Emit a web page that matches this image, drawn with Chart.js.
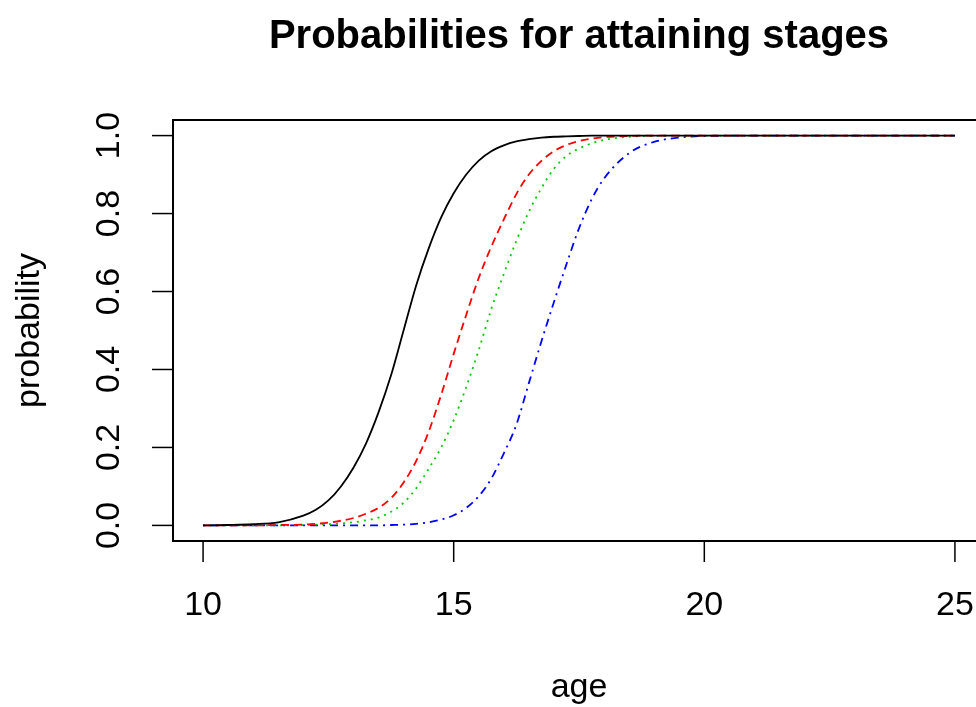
<!DOCTYPE html>
<html>
<head>
<meta charset="utf-8">
<script src="https://cdn.jsdelivr.net/npm/chart.js@4"></script>
<style>
  html, body { margin: 0; padding: 0; overflow: hidden; background: #fff; }
  #wrap { width: 1000px; height: 707px; }
</style>
</head>
<body>
<div id="wrap"><canvas id="chart" width="1000" height="707"></canvas></div>
<script>
// age grid (finer where the curves rise)
const ages = [10, 10.5, 11, 11.5, 12, 12.25, 12.5, 12.75, 13, 13.25, 13.5, 13.75, 14, 14.25, 14.5, 14.75,
  15, 15.25, 15.5, 15.75, 16, 16.25, 16.5, 16.75, 17, 17.25, 17.5, 17.75, 18, 18.5, 19, 19.5, 20, 21, 22, 23, 24, 25];

const stage1 = [0, 0.001, 0.003, 0.008, 0.025, 0.04, 0.064, 0.1, 0.148, 0.21, 0.29, 0.385, 0.5, 0.615, 0.71, 0.79,
  0.852, 0.9, 0.936, 0.96, 0.975, 0.985, 0.991, 0.995, 0.997, 0.998, 0.999, 1, 1, 1, 1, 1, 1, 1, 1, 1, 1, 1];
const stage2 = [0, 0, 0, 0.001, 0.002, 0.004, 0.007, 0.012, 0.019, 0.03, 0.045, 0.07, 0.11, 0.165, 0.24, 0.335,
  0.44, 0.54, 0.635, 0.715, 0.785, 0.85, 0.9, 0.935, 0.96, 0.976, 0.986, 0.992, 0.996, 0.999, 1, 1, 1, 1, 1, 1, 1, 1];
const stage3 = [0, 0, 0, 0, 0.001, 0.002, 0.003, 0.005, 0.008, 0.013, 0.02, 0.035, 0.058, 0.095, 0.145, 0.2,
  0.27, 0.355, 0.45, 0.555, 0.645, 0.73, 0.805, 0.865, 0.915, 0.948, 0.967, 0.98, 0.989, 0.997, 0.999, 1, 1, 1, 1, 1, 1, 1];
const stage4 = [0, 0, 0, 0, 0, 0, 0, 0, 0, 0, 0, 0.001, 0.002, 0.004, 0.008, 0.015,
  0.026, 0.045, 0.075, 0.12, 0.185, 0.258, 0.365, 0.472, 0.573, 0.67, 0.762, 0.836, 0.89, 0.955, 0.984, 0.995, 0.999, 1, 1, 1, 1, 1];

const xTicks = [10, 15, 20, 25];
const yTicks = [0, 0.2, 0.4, 0.6, 0.8, 1.0];
const yLabels = ["0.0", "0.2", "0.4", "0.6", "0.8", "1.0"];

const font = "'Liberation Sans', Arial, sans-serif";

function serie(values) {
  return ages.map((a, i) => ({ x: a, y: values[i] }));
}

// box, ticks and labels drawn like R base graphics
const rAxes = {
  id: "rAxes",
  afterDraw(chart) {
    const ctx = chart.ctx;
    const area = chart.chartArea;
    const sx = chart.scales.x;
    const sy = chart.scales.y;
    ctx.save();
    ctx.strokeStyle = "#000";
    ctx.fillStyle = "#000";
    ctx.lineWidth = 2;
    ctx.strokeRect(area.left, area.top, area.right - area.left, area.bottom - area.top);

    ctx.lineWidth = 1.5;
    ctx.font = "34px " + font;
    ctx.textAlign = "center";
    ctx.textBaseline = "middle";
    xTicks.forEach(v => {
      const px = sx.getPixelForValue(v);
      ctx.beginPath();
      ctx.moveTo(px, area.bottom);
      ctx.lineTo(px, area.bottom + 21);
      ctx.stroke();
      ctx.fillText(String(v), px, 606);
    });

    yTicks.forEach((v, i) => {
      const py = sy.getPixelForValue(v);
      ctx.beginPath();
      ctx.moveTo(area.left, py);
      ctx.lineTo(area.left - 21, py);
      ctx.stroke();
      ctx.save();
      ctx.translate(110, py);
      ctx.rotate(-Math.PI / 2);
      ctx.fillText(yLabels[i], 0, 0);
      ctx.restore();
    });

    // axis titles
    ctx.fillText("age", (area.left + area.right) / 2, 688);
    ctx.save();
    ctx.translate(30, (area.top + area.bottom) / 2);
    ctx.rotate(-Math.PI / 2);
    ctx.fillText("probability", 0, 0);
    ctx.restore();

    ctx.font = "bold 40px " + font;
    ctx.fillText("Probabilities for attaining stages", (area.left + area.right) / 2, 37);
    ctx.restore();
  }
};

new Chart(document.getElementById("chart"), {
  type: "line",
  data: {
    datasets: [
      { data: serie(stage1), borderColor: "#000000", borderWidth: 1.8 },
      { data: serie(stage2), borderColor: "#FF0000", borderWidth: 1.8, borderDash: [8, 5] },
      { data: serie(stage3), borderColor: "#00CD00", borderWidth: 1.8, borderDash: [2, 5] },
      { data: serie(stage4), borderColor: "#0000FF", borderWidth: 1.8, borderDash: [2, 5, 8, 5] }
    ]
  },
  options: {
    responsive: false,
    devicePixelRatio: 1,
    animation: false,
    layout: { padding: { left: 173, top: 120, right: 15, bottom: 166 } },
    elements: {
      point: { radius: 0 },
      line: { cubicInterpolationMode: "monotone", fill: false }
    },
    plugins: { legend: { display: false }, tooltip: { enabled: false } },
    scales: {
      x: { type: "linear", min: 9.4, max: 25.6, display: false },
      y: { type: "linear", min: -0.04, max: 1.04, display: false }
    }
  },
  plugins: [rAxes]
});
</script>
</body>
</html>
